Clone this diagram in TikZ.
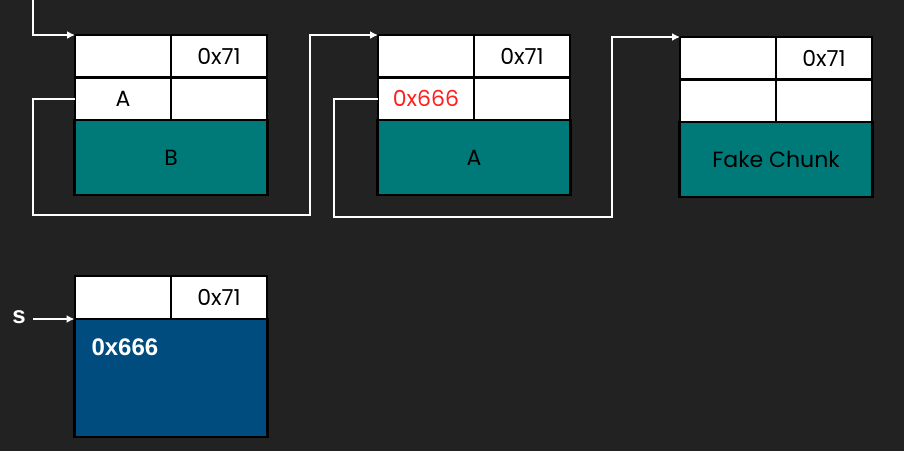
\documentclass[tikz,border=0pt]{standalone}
\usepackage{fontspec}
\setmainfont{Poppins}
\newfontfamily\arialfont{Liberation Sans}
\usetikzlibrary{arrows.meta,positioning}

\definecolor{bgdark}{HTML}{222222}
\definecolor{chunkteal}{HTML}{007A78}
\definecolor{chunkblue}{HTML}{004C7F}
\definecolor{ptrred}{HTML}{FF2020}

\tikzset{
    cell/.style={draw=black, fill=white, line width=2.5pt, inner sep=0pt, outer sep=0pt,
        minimum width=96pt, minimum height=42.5pt,
        font=\fontsize{22}{22}\selectfont},
    chunkbody/.style={cell, fill=chunkteal, minimum width=193pt, minimum height=75pt},
    link/.style={draw=white, line width=2pt, -{Latex[length=8pt,width=8pt]}},
    boldtxt/.style={text=white, font=\arialfont\bfseries\fontsize{24}{24}\selectfont}
}

\begin{document}
\begin{tikzpicture}[x=1pt, y=-1pt]
    \path[use as bounding box, fill=bgdark] (0,0) rectangle (904,451);

    % chunk B
    \node[cell] (c1a) at (123, 56.25) {};
    \node[cell, right=0pt of c1a] (c1b) {0x71};
    \node[cell, below=0pt of c1a] (c1c) {A};
    \node[cell, right=0pt of c1c] (c1d) {};
    \node[chunkbody, below=0pt of c1c.south east] (c1e) {B};

    % chunk A
    \node[cell] (c2a) at (426, 56.25) {};
    \node[cell, right=0pt of c2a] (c2b) {0x71};
    \node[cell, below=0pt of c2a, text=ptrred] (c2c) {0x666};
    \node[cell, right=0pt of c2c] (c2d) {};
    \node[chunkbody, below=0pt of c2c.south east] (c2e) {A};

    % fake chunk
    \node[cell] (c3a) at (728, 58.25) {};
    \node[cell, right=0pt of c3a] (c3b) {0x71};
    \node[cell, below=0pt of c3a] (c3c) {};
    \node[cell, right=0pt of c3c] (c3d) {};
    \node[chunkbody, below=0pt of c3c.south east] (c3e) {Fake Chunk};

    % chunk s
    \node[cell, minimum height=43pt] (c4a) at (123, 297.5) {};
    \node[cell, minimum height=43pt, right=0pt of c4a] (c4b) {0x71};
    \node[chunkbody, fill=chunkblue, minimum height=118pt,
        below=0pt of c4a.south east] (c4e) {};
    \node[boldtxt, anchor=west] (val) at (88, 347) {0x666};
    \node[boldtxt, inner sep=7pt] (s) at (19, 317) {s};

    % links
    \coordinate (entry) at (33, 0);
    \coordinate (turn1) at (33, 215);
    \coordinate (rise1) at (310, 215);
    \coordinate (turn2) at (334, 217);
    \coordinate (rise2) at (612, 217);
    \draw[link] (entry) |- (c1a.north west);
    \draw[link] (c1c.west) -| (turn1) -- (rise1) |- (c2a.north west);
    \draw[link] (c2c.west) -| (turn2) -- (rise2) |- (c3a.north west);
    \draw[link] (s.east |- c4e.north west) -- (c4e.north west);
\end{tikzpicture}
\end{document}
